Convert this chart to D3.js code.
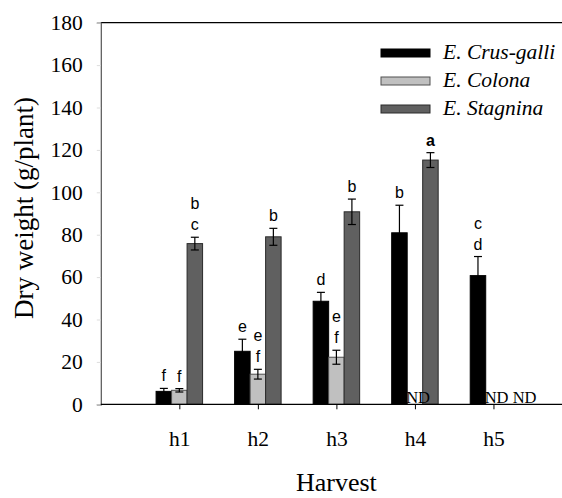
<!DOCTYPE html>
<html>
<head>
<meta charset="utf-8">
<script src="https://cdn.jsdelivr.net/npm/d3@7"></script>
<style>
  body { margin: 0; background: #fff; }
  svg { display: block; }
</style>
</head>
<body>
<div id="chart"></div>
<script>
const harvests = ['h1', 'h2', 'h3', 'h4', 'h5'];
const species = ['E. Crus-galli', 'E. Colona', 'E. Stagnina'];
const colors = ['#000000', '#c0c0c0', '#606060'];
const strokes = ['#000000', '#505050', '#2a2a2a'];

// mean dry weight, null = ND (not determined)
const crusGalli = [6.1, 25.0, 48.6, 80.9, 60.7];
const colona = [6.6, 14.2, 22.2, null, null];
const stagnina = [75.8, 79.0, 90.8, 115.2, null];

// standard errors
const crusGalliErr = [1.4, 5.7, 4.2, 13.0, 9.0];
const colonaErr = [0.8, 2.3, 3.3, null, null];
const stagninaErr = [3.0, 4.0, 6.0, 3.5, null];

// significance letters, top line first
const crusGalliLetters = [['f'], ['e'], ['d'], ['b'], ['c', 'd']];
const colonaLetters = [['f'], ['e', 'f'], ['e', 'f'], [], []];
const stagninaLetters = [['b', 'c'], ['b'], ['b'], ['a'], []];

const yTicks = [0, 20, 40, 60, 80, 100, 120, 140, 160, 180];

const values = [crusGalli, colona, stagnina];
const errors = [crusGalliErr, colonaErr, stagninaErr];
const letters = [crusGalliLetters, colonaLetters, stagninaLetters];

const SERIF = '"Liberation Serif", "Times New Roman", "DejaVu Serif", serif';
const SANS = '"Liberation Sans", Arial, sans-serif';

const width = 562, height = 498;
const svg = d3.select('#chart').append('svg')
  .attr('width', width)
  .attr('height', height);

const x = d3.scaleLinear().domain([0, harvests.length + 1]).range([100.8, 572]);
const y = d3.scaleLinear().domain([0, 180]).range([404.3, 22.7]);
const groupW = (x(1) - x(0)) * 0.592;
const xs = d3.scaleBand().domain(d3.range(species.length)).range([-groupW / 2, groupW / 2]);

// top frame line
svg.append('line')
  .attr('x1', x(0)).attr('x2', x(harvests.length + 1))
  .attr('y1', y(180)).attr('y2', y(180))
  .attr('stroke', '#000').attr('stroke-width', 1.2);

// y axis
const yAxis = svg.append('g')
  .attr('transform', `translate(${x(0)},0)`)
  .call(d3.axisLeft(y).tickValues(yTicks).tickSize(4).tickPadding(14));
yAxis.attr('font-family', null).attr('font-size', null);
yAxis.select('.domain').attr('stroke', '#555').attr('stroke-width', 1.2);
yAxis.selectAll('.tick line').attr('stroke', '#ddd');
yAxis.selectAll('.tick text')
  .style('font-family', SERIF)
  .style('font-size', '21.5px')
  .attr('fill', '#000');

// x axis
const xAxis = svg.append('g')
  .attr('transform', `translate(0,${y(0)})`)
  .call(d3.axisBottom(x)
    .tickValues(d3.range(1, harvests.length + 1))
    .tickFormat(i => harvests[i - 1])
    .tickSize(5).tickPadding(21));
xAxis.attr('font-family', null).attr('font-size', null);
xAxis.select('.domain').remove();
xAxis.selectAll('.tick line').attr('stroke', '#000');
xAxis.selectAll('.tick text')
  .style('font-family', SERIF)
  .style('font-size', '21.5px')
  .attr('fill', '#000');

// bars
const rows = [];
harvests.forEach((h, i) => {
  species.forEach((s, j) => {
    rows.push({ i, j, v: values[j][i], e: errors[j][i], lab: letters[j][i] });
  });
});
const present = rows.filter(d => d.v != null);

svg.append('g').selectAll('rect')
  .data(present)
  .join('rect')
  .attr('x', d => x(d.i + 1) + xs(d.j))
  .attr('width', xs.bandwidth())
  .attr('y', d => y(d.v))
  .attr('height', d => y(0) - y(d.v))
  .attr('fill', d => colors[d.j])
  .attr('stroke', d => strokes[d.j])
  .attr('stroke-width', 1);

// error bars
const eb = svg.append('g').attr('stroke', '#000').attr('stroke-width', 1.2);
present.forEach(d => {
  const cx = x(d.i + 1) + xs(d.j) + xs.bandwidth() / 2;
  const hi = y(d.v + d.e), lo = y(d.v - d.e);
  eb.append('line').attr('x1', cx).attr('x2', cx).attr('y1', hi).attr('y2', lo);
  eb.append('line').attr('x1', cx - 4).attr('x2', cx + 4).attr('y1', hi).attr('y2', hi);
  eb.append('line').attr('x1', cx - 4).attr('x2', cx + 4).attr('y1', lo).attr('y2', lo);
});

// x axis line
svg.append('line')
  .attr('x1', x(0)).attr('x2', x(harvests.length + 1))
  .attr('y1', y(0)).attr('y2', y(0))
  .attr('stroke', '#000').attr('stroke-width', 1.2);

// significance letters
present.forEach(d => {
  const cx = x(d.i + 1) + xs(d.j) + xs.bandwidth() / 2;
  const base = y(d.v + d.e) - 7;
  const n = d.lab.length;
  d.lab.forEach((l, k) => {
    svg.append('text')
      .attr('x', cx)
      .attr('y', base - (n - 1 - k) * 21)
      .attr('text-anchor', 'middle')
      .style('font-family', SANS)
      .style('font-size', '16px')
      .style('font-weight', l === 'a' ? 'bold' : 'normal')
      .text(l);
  });
});

// ND labels
harvests.forEach((h, i) => {
  const nd = species.map((s, j) => j).filter(j => values[j][i] == null);
  if (!nd.length) return;
  svg.append('text')
    .attr('x', x(i + 1) + xs(nd[0]) - 1)
    .attr('y', y(0) - 1.5)
    .style('font-family', SERIF)
    .style('font-size', '16.5px')
    .text(nd.map(() => 'ND').join(' '));
});

// legend
const legend = svg.append('g');
species.forEach((s, j) => {
  const cy = 53 + j * 28;
  legend.append('rect')
    .attr('x', 381).attr('y', cy - 4)
    .attr('width', 49).attr('height', 8)
    .attr('fill', colors[j])
    .attr('stroke', strokes[j]);
  legend.append('text')
    .attr('x', 443).attr('y', cy + 5.5)
    .style('font-family', SERIF)
    .style('font-size', '21.5px')
    .style('font-style', 'italic')
    .text(s);
});

// axis titles
svg.append('text')
  .attr('transform', `translate(33,208) rotate(-90)`)
  .attr('text-anchor', 'middle')
  .style('font-family', SERIF)
  .style('font-size', '27px')
  .text('Dry weight (g/plant)');

svg.append('text')
  .attr('x', (x(0) + x(harvests.length + 1)) / 2)
  .attr('y', 491)
  .attr('text-anchor', 'middle')
  .style('font-family', SERIF)
  .style('font-size', '26px')
  .text('Harvest');
</script>
</body>
</html>
